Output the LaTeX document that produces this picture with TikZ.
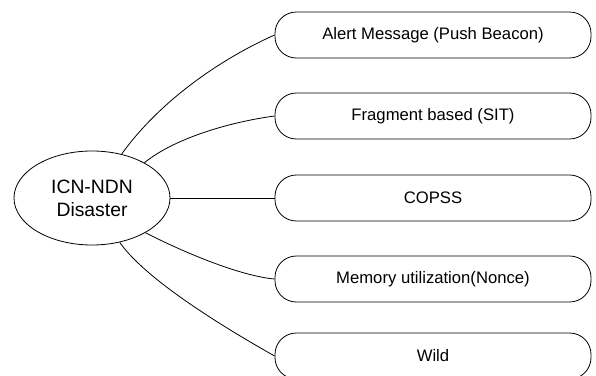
\documentclass[tikz,border=0pt]{standalone}
\usepackage{fontspec}
\setmainfont{Liberation Sans}
\usetikzlibrary{shapes.geometric}

\begin{document}
\begin{tikzpicture}[x=0.75pt,y=0.75pt,yscale=-1,xscale=1,
  hub/.style={draw, ellipse, line width=0.6pt, minimum width=117pt, minimum height=70.5pt, inner sep=0pt, align=center, font=\fontsize{14.5}{17.3}\selectfont},
  leaf/.style={draw, rounded corners=16pt, line width=0.6pt, minimum width=237pt, minimum height=34.5pt, inner sep=0pt, font=\fontsize{12.5}{15}\selectfont},
  link/.style={line width=0.6pt}]
\useasboundingbox (0,0) rectangle (596,375);

\node [hub] (disaster) at (92,198) {ICN-NDN\\Disaster};

\node [leaf] (alert) at (433,35) {Alert Message (Push Beacon)};
\node [leaf] (fragment) at (433,116) {Fragment based (SIT)};
\node [leaf] (copss) at (433,198) {COPSS};
\node [leaf] (memory) at (433,279) {Memory utilization(Nonce)};
\node [leaf] (wild) at (433,356) {Wild};

\draw [link] (disaster.56) .. controls (162,98) and (225,57) .. (alert.west);
\draw [link] (disaster.34) .. controls (175,138) and (230,122) .. (fragment.west);
\draw [link] (disaster.east) -- (copss.west);
\draw [link] (disaster.-33) .. controls (183,252) and (240,276) .. (memory.west);
\draw [link] (disaster.-58) .. controls (146,280) and (225,328) .. (wild.west);

\end{tikzpicture}
\end{document}
